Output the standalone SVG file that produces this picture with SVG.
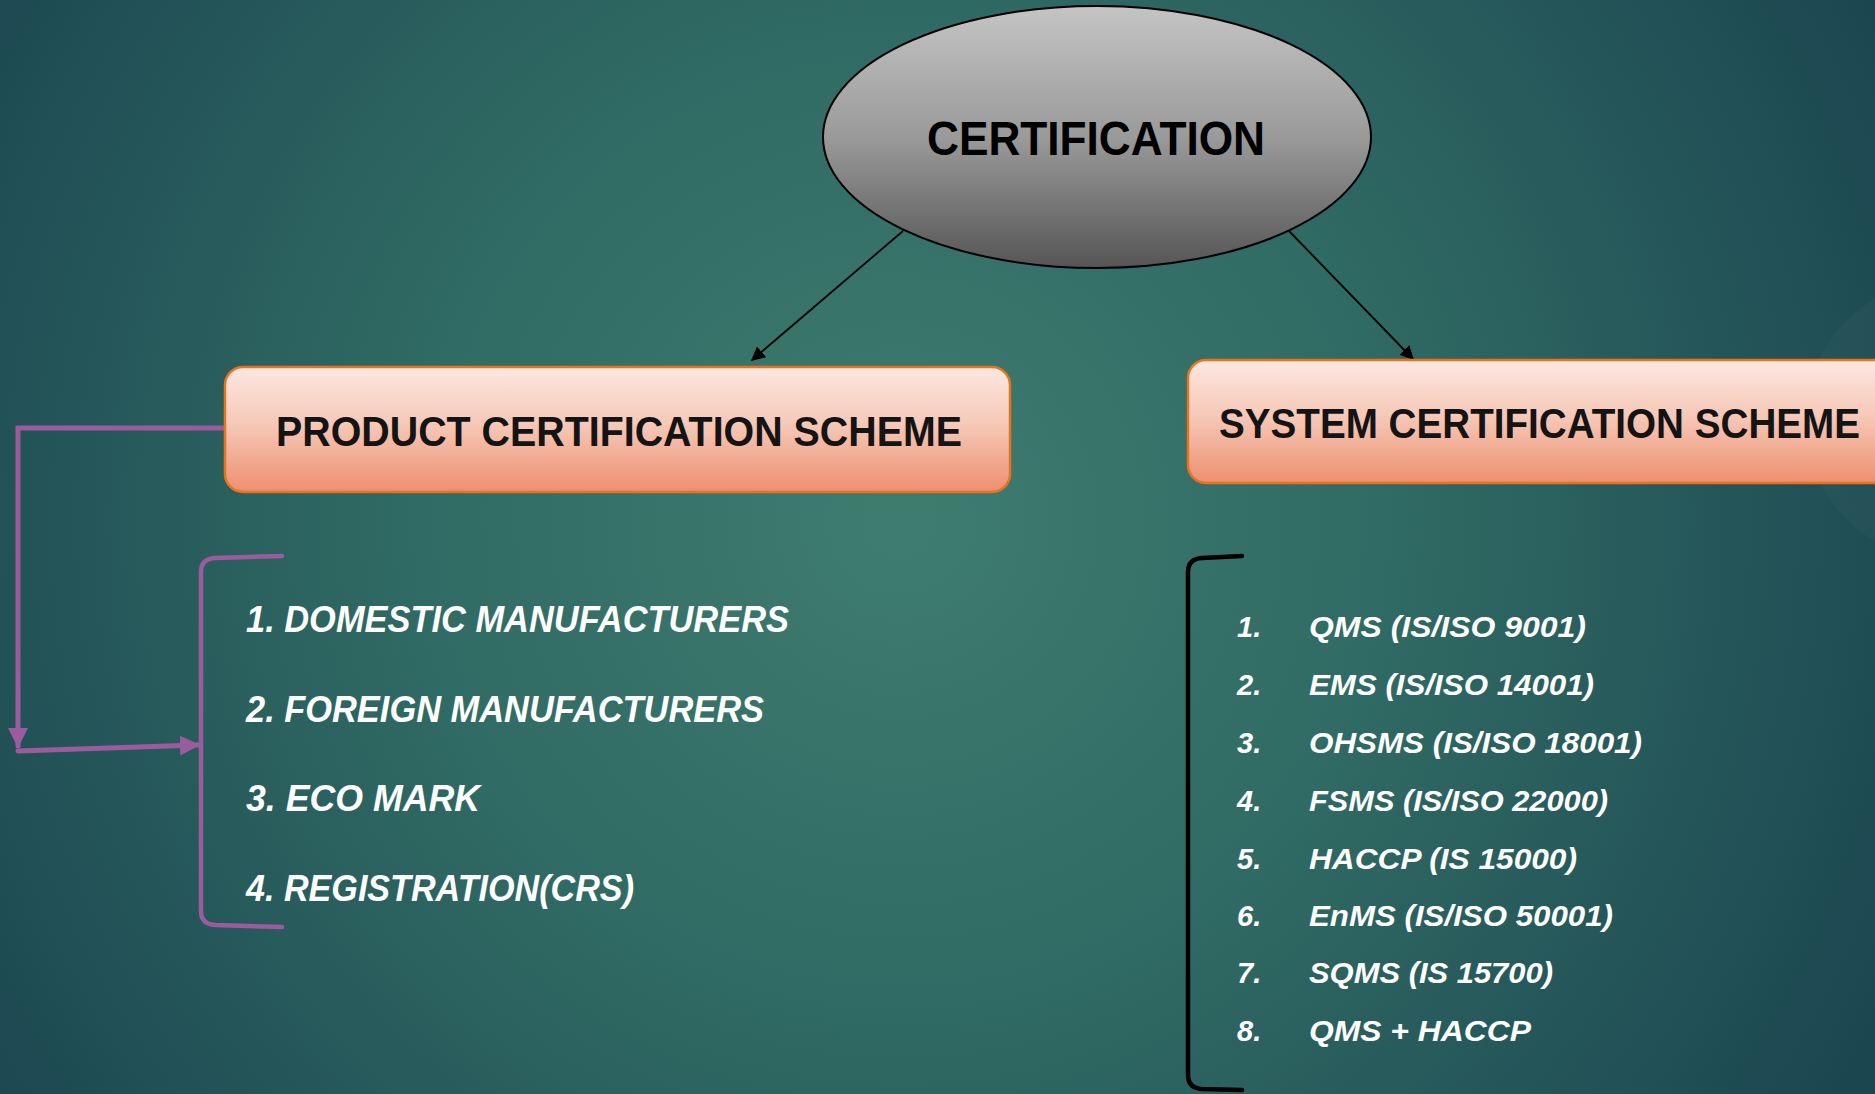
<svg xmlns="http://www.w3.org/2000/svg" width="1875" height="1094" viewBox="0 0 1875 1094">
  <defs>
    <radialGradient id="bg" cx="900" cy="520" r="1100" gradientUnits="userSpaceOnUse">
      <stop offset="0" stop-color="#3f7c70"/>
      <stop offset="0.45" stop-color="#306a64"/>
      <stop offset="1" stop-color="#1b4650"/>
    </radialGradient>
    <linearGradient id="ellFill" x1="0" y1="0" x2="0" y2="1">
      <stop offset="0" stop-color="#c4c4c4"/>
      <stop offset="0.5" stop-color="#9a9a9a"/>
      <stop offset="1" stop-color="#555555"/>
    </linearGradient>
    <linearGradient id="boxFill" x1="0" y1="0" x2="0" y2="1">
      <stop offset="0" stop-color="#fce8e1"/>
      <stop offset="0.45" stop-color="#f6c9b8"/>
      <stop offset="1" stop-color="#ee8f70"/>
    </linearGradient>
    <marker id="blackArrow" viewBox="0 0 10 10" refX="9" refY="5" markerWidth="14" markerHeight="14" markerUnits="userSpaceOnUse" orient="auto">
      <path d="M0,0 L10,5 L0,10 z" fill="#000"/>
    </marker>
    <marker id="purpleArrow" viewBox="0 0 10 10" refX="9" refY="5" markerWidth="20" markerHeight="20" markerUnits="userSpaceOnUse" orient="auto">
      <path d="M0,0 L10,5 L0,10 z" fill="#9b5c9d"/>
    </marker>
    <style>
      .ell { fill: url(#ellFill); stroke: #000; stroke-width: 2; }
      .box { fill: url(#boxFill); stroke: #e8731f; stroke-width: 2.5; }
      .title { font-family: "Liberation Sans", Arial, sans-serif; font-weight: bold; fill: #000; }
      .boxText { font-family: "Liberation Sans", Arial, sans-serif; font-weight: bold; fill: #141414; font-size: 43px; }
      .item { font-family: "Liberation Sans", Arial, sans-serif; font-weight: bold; font-style: italic; fill: #ffffff; }
      .left { font-size: 37px; }
      .right { font-size: 29px; }
      .blk { stroke: #000; stroke-width: 1.8; fill: none; }
      .pur { stroke: #9b5c9d; stroke-width: 5; fill: none; stroke-linecap: round; }
      .brk { fill: none; stroke-width: 4.5; stroke-linecap: round; stroke-linejoin: round; }
    </style>
  </defs>

  <rect x="0" y="0" width="1875" height="1094" fill="url(#bg)"/>
  <circle cx="1945" cy="420" r="140" fill="#ffffff" opacity="0.025"/>

  <g id="connectors">
    <line class="blk" x1="903" y1="231" x2="752" y2="360" marker-end="url(#blackArrow)"/>
    <line class="blk" x1="1289" y1="231" x2="1413" y2="359" marker-end="url(#blackArrow)"/>
    <polyline class="pur" points="225,428 18,428 18,746" marker-end="url(#purpleArrow)"/>
    <line class="pur" x1="18" y1="751" x2="198" y2="745" marker-end="url(#purpleArrow)"/>
  </g>

  <g id="certification">
    <ellipse class="ell" cx="1097" cy="137" rx="274" ry="131"/>
    <text class="title" x="927" y="155" font-size="49" textLength="338" lengthAdjust="spacingAndGlyphs">CERTIFICATION</text>
  </g>

  <g id="product-scheme">
    <rect class="box" x="225" y="367" width="785" height="125" rx="18" ry="18"/>
    <text class="boxText" x="276" y="446" textLength="686" lengthAdjust="spacingAndGlyphs">PRODUCT CERTIFICATION SCHEME</text>
  </g>

  <g id="system-scheme">
    <rect class="box" x="1188" y="360" width="720" height="123" rx="18" ry="18"/>
    <text class="boxText" x="1219" y="438" textLength="641" lengthAdjust="spacingAndGlyphs">SYSTEM CERTIFICATION SCHEME</text>
  </g>

  <g id="product-list">
    <path class="brk" stroke="#9b5c9d" d="M282,556 L215,558 Q201,559 201,572 L201,911 Q201,924 215,925 L282,927"/>
    <text class="item left" x="246" y="632" textLength="543" lengthAdjust="spacingAndGlyphs">1. DOMESTIC MANUFACTURERS</text>
    <text class="item left" x="246" y="722" textLength="518" lengthAdjust="spacingAndGlyphs">2. FOREIGN MANUFACTURERS</text>
    <text class="item left" x="246" y="811" textLength="234" lengthAdjust="spacingAndGlyphs">3. ECO MARK</text>
    <text class="item left" x="246" y="901" textLength="388" lengthAdjust="spacingAndGlyphs">4. REGISTRATION(CRS)</text>
  </g>

  <g id="system-list">
    <path class="brk" stroke="#000" d="M1242,556 L1202,558 Q1188,559 1188,572 L1188,1075 Q1188,1088 1202,1089 L1242,1090"/>
    <text class="item right" x="1237" y="637">1.</text>
    <text class="item right" x="1309" y="637" textLength="277" lengthAdjust="spacingAndGlyphs">QMS (IS/ISO 9001)</text>
    <text class="item right" x="1237" y="695">2.</text>
    <text class="item right" x="1309" y="695" textLength="285" lengthAdjust="spacingAndGlyphs">EMS (IS/ISO 14001)</text>
    <text class="item right" x="1237" y="753">3.</text>
    <text class="item right" x="1309" y="753" textLength="333" lengthAdjust="spacingAndGlyphs">OHSMS (IS/ISO 18001)</text>
    <text class="item right" x="1237" y="811">4.</text>
    <text class="item right" x="1309" y="811" textLength="299" lengthAdjust="spacingAndGlyphs">FSMS (IS/ISO 22000)</text>
    <text class="item right" x="1237" y="869">5.</text>
    <text class="item right" x="1309" y="869" textLength="268" lengthAdjust="spacingAndGlyphs">HACCP (IS 15000)</text>
    <text class="item right" x="1237" y="926">6.</text>
    <text class="item right" x="1309" y="926" textLength="304" lengthAdjust="spacingAndGlyphs">EnMS (IS/ISO 50001)</text>
    <text class="item right" x="1237" y="983">7.</text>
    <text class="item right" x="1309" y="983" textLength="244" lengthAdjust="spacingAndGlyphs">SQMS (IS 15700)</text>
    <text class="item right" x="1237" y="1041">8.</text>
    <text class="item right" x="1309" y="1041" textLength="222" lengthAdjust="spacingAndGlyphs">QMS + HACCP</text>
  </g>
</svg>
